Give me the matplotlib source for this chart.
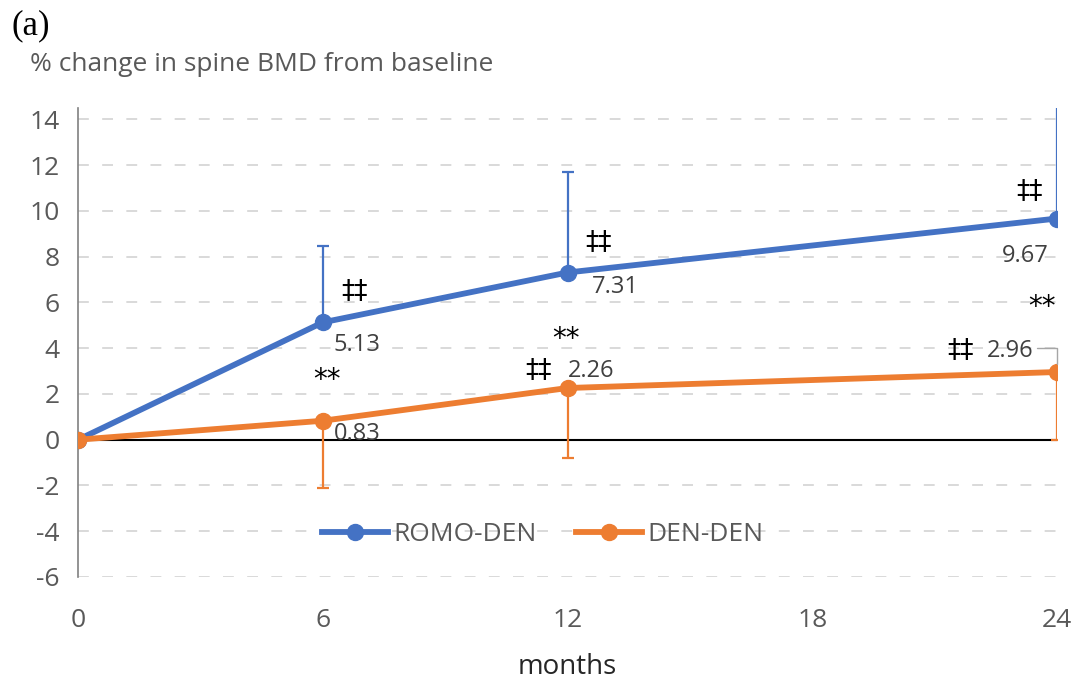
import matplotlib.pyplot as plt

plt.rcParams['font.family'] = ['Open Sans', 'DejaVu Sans']
plt.rcParams['axes.unicode_minus'] = False

# % change in spine BMD from baseline
months = [0, 6, 12, 24]
romo_den = [0, 5.13, 7.31, 9.67]
den_den = [0, 0.83, 2.26, 2.96]
romo_err = [0, 3.32, 4.4, 5.0]   # upper bars only
den_err = [0, 2.93, 3.06, 2.96]  # lower bars only

xticks = [0, 6, 12, 18, 24]
yticks = list(range(-6, 16, 2))

blue = '#4472C4'
orange = '#ED7D31'
grey = '#595959'

fig = plt.figure(figsize=(10.81, 6.82), dpi=100)
ax = fig.add_axes([0.0722, 0.154, 0.9056, 0.6876])

# dashed gridlines, solid black line at zero
for y in yticks:
    if y == 0:
        continue
    ax.axhline(y, color='#D3D3D3', lw=1.2, ls=(0, (6.5, 8)), zorder=0)
ax.axhline(0, color='black', lw=1.5, zorder=1)

ax.errorbar(months, romo_den, yerr=[[0] * 4, romo_err], fmt='none',
            ecolor=blue, elinewidth=1.6, capsize=4.5, capthick=1.6, zorder=2)
ax.errorbar(months, den_den, yerr=[den_err, [0] * 4], fmt='none',
            ecolor=orange, elinewidth=1.6, capsize=4.5, capthick=1.6, zorder=2)

ax.plot(months, romo_den, color=blue, lw=4.2, marker='o', ms=11.5,
        label='ROMO-DEN', zorder=3)
ax.plot(months, den_den, color=orange, lw=4.2, marker='o', ms=11.5,
        label='DEN-DEN', zorder=3)

# value labels (offsets in pixels)
lab = dict(textcoords='offset pixels', fontsize=17, color='#404040', va='center')
ax.annotate(f'{romo_den[1]:.2f}', (6, romo_den[1]), xytext=(11, -23), ha='left', **lab)
ax.annotate(f'{romo_den[2]:.2f}', (12, romo_den[2]), xytext=(24, -14), ha='left', **lab)
ax.annotate(f'{romo_den[3]:.2f}', (24, romo_den[3]), xytext=(-8, -37), ha='right', **lab)
ax.annotate(f'{den_den[1]:.2f}', (6, den_den[1]), xytext=(11, -13), ha='left', **lab)
ax.annotate(f'{den_den[2]:.2f}', (12, den_den[2]), xytext=(0, 17), ha='left', **lab)
ax.annotate(f'{den_den[3]:.2f}', (24, den_den[3]), xytext=(-24, 21), ha='right', **lab)
# leader line for the last orange label
ax.annotate('', (24, den_den[3]), xytext=(-20, 24), textcoords='offset pixels',
            arrowprops=dict(arrowstyle='-', color='#A6A6A6', lw=1,
                            connectionstyle='angle,angleA=0,angleB=90,rad=0',
                            shrinkA=0, shrinkB=6))

# significance marks
dag = dict(textcoords='offset pixels', fontsize=19, color='black',
           ha='center', va='center', family='DejaVu Sans')
ax.annotate('‡‡', (6, romo_den[1]), xytext=(32, 30), **dag)
ax.annotate('‡‡', (12, romo_den[2]), xytext=(31, 30), **dag)
ax.annotate('‡‡', (24, romo_den[3]), xytext=(-28, 27), **dag)
ax.annotate('‡‡', (12, den_den[2]), xytext=(-29, 17), **dag)
ax.annotate('‡‡', (24, den_den[3]), xytext=(-97, 21), **dag)

ast = dict(textcoords='offset pixels', fontsize=20, color='black',
           ha='center', va='baseline', family='DejaVu Sans')
ax.annotate('**', (6, den_den[1]), xytext=(4, 33), **ast)
ax.annotate('**', (12, den_den[2]), xytext=(-2, 41), **ast)
ax.annotate('**', (24, den_den[3]), xytext=(-15, 57), **ast)

ax.set_xlim(0, 24)
ax.set_ylim(-6, 14.5)
ax.set_xticks(xticks)
ax.set_yticks(yticks)
ax.tick_params(length=0, labelsize=19, colors=grey)
ax.tick_params(axis='y', pad=13)
ax.tick_params(axis='x', pad=22)

for s in ['top', 'right', 'bottom']:
    ax.spines[s].set_visible(False)
ax.spines['left'].set_color('#808080')
ax.spines['left'].set_linewidth(1.2)

ax.set_xlabel('months', fontsize=20, color='#262626', labelpad=15)

fig.text(0.028, 0.906, '% change in spine BMD from baseline', fontsize=19,
         color=grey, va='center', ha='left')
fig.text(0.011, 0.962, '(a)', fontsize=25, family='Liberation Serif',
         va='center', ha='left')

ax.legend(loc='center', bbox_to_anchor=(0.475, 0.0896), ncol=2, frameon=False,
          fontsize=19, handlelength=2.5, columnspacing=1.5, handletextpad=0.2,
          labelcolor=grey)

plt.savefig('out.png', dpi=100)
